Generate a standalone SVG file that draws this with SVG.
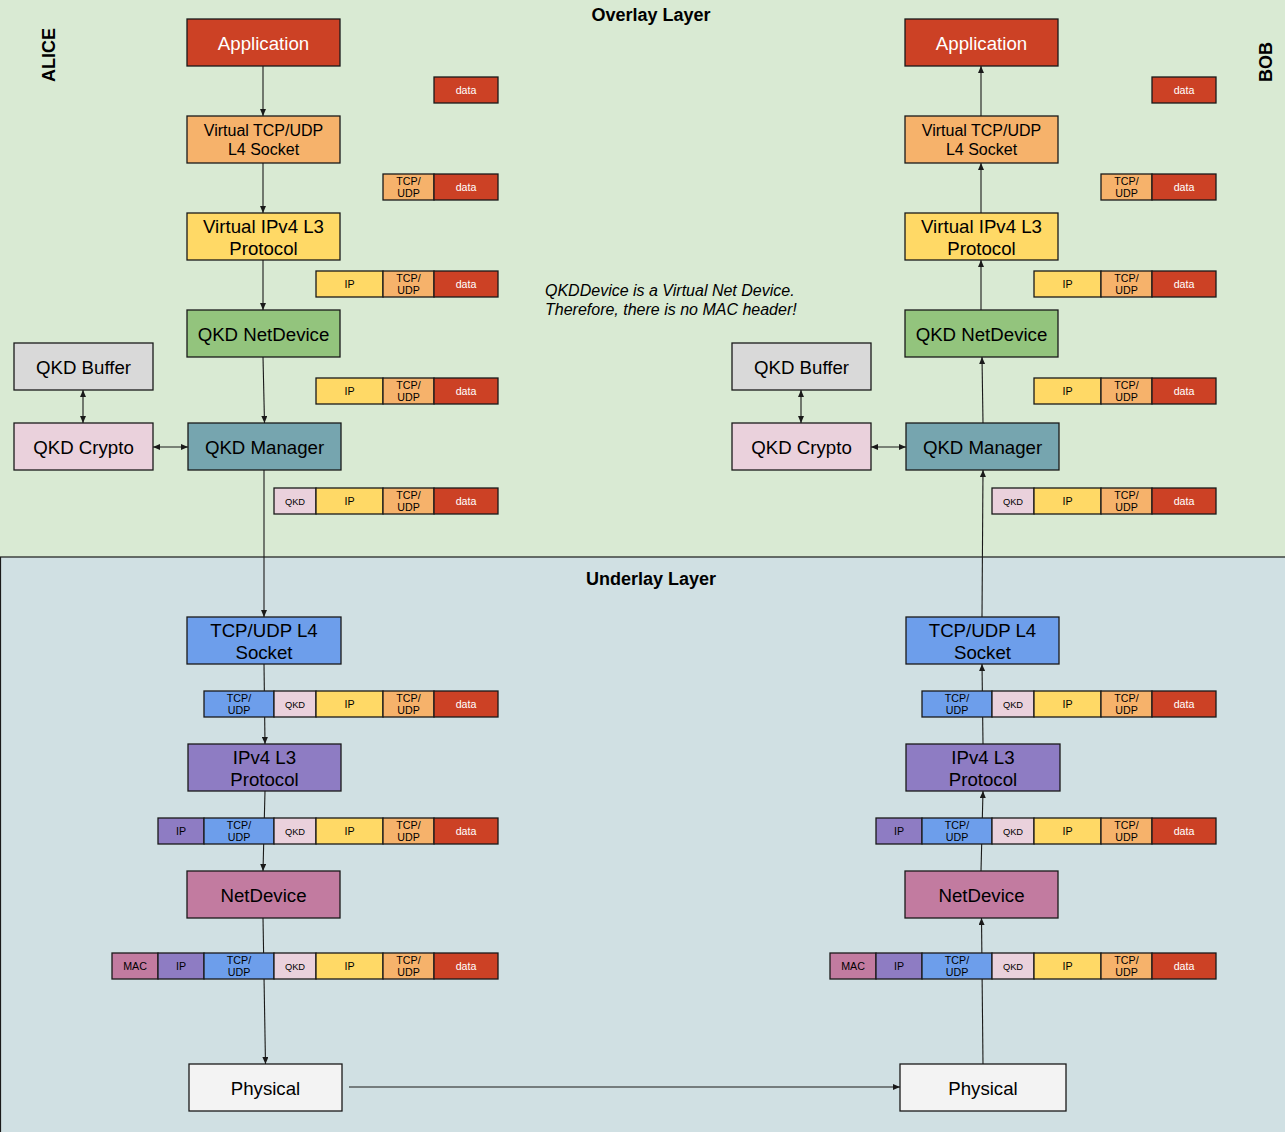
<svg xmlns="http://www.w3.org/2000/svg" xmlns:xlink="http://www.w3.org/1999/xlink" width="1285" height="1132" viewBox="0 0 1285 1132">
<style>
text{font-family:"Liberation Sans",Arial,sans-serif;text-anchor:middle;fill:#000}
.node rect{stroke:#1a1a1a;stroke-width:1.3}
.n18{font-size:18.67px}
.n16{font-size:16px}
.w{fill:#fff}
.cell{stroke:#1a1a1a;stroke-width:1.3}
.pt{font-size:10.67px}
.pq{font-size:9.33px}
.title{font-size:18px;font-weight:bold}
.note{font-size:16px;font-style:italic;text-anchor:start}
.conn line,.conn path{stroke:#1a1a1a;stroke-width:1.1;fill:none}
.arr{marker-end:url(#ah)}
.dbl{marker-end:url(#ah);marker-start:url(#ah)}
</style>
<defs>
<marker id="ah" viewBox="0 0 7 6" refX="7" refY="3" markerWidth="7" markerHeight="6" markerUnits="userSpaceOnUse" orient="auto-start-reverse">
<path d="M0,0 L7,3 L0,6 z" fill="#1a1a1a"/>
</marker>
<g id="c-mac"><rect class="cell" x="0" y="0" width="46" height="26" fill="#c27ba0"/><text class="pt" x="23" y="17">MAC</text></g>
<g id="c-ipp"><rect class="cell" x="0" y="0" width="46" height="26" fill="#8e7cc3"/><text class="pt" x="23" y="17">IP</text></g>
<g id="c-tub"><rect class="cell" x="0" y="0" width="70" height="26" fill="#6d9eeb"/><text class="pt" x="35" y="10.5">TCP/</text><text class="pt" x="35" y="23">UDP</text></g>
<g id="c-qkd"><rect class="cell" x="0" y="0" width="42" height="26" fill="#ead1dc"/><text class="pq" x="21" y="16.5">QKD</text></g>
<g id="c-ip"><rect class="cell" x="0" y="0" width="67" height="26" fill="#ffd966"/><text class="pt" x="33.5" y="17">IP</text></g>
<g id="c-tu"><rect class="cell" x="0" y="0" width="51" height="26" fill="#f6b26b"/><text class="pt" x="25.5" y="10.5">TCP/</text><text class="pt" x="25.5" y="23">UDP</text></g>
<g id="c-data"><rect class="cell" x="0" y="0" width="64" height="26" fill="#cc4125"/><text class="pt w" x="32" y="17">data</text></g>
<g id="r1"><use xlink:href="#c-data" x="434"/></g>
<g id="r2"><use xlink:href="#c-tu" x="383"/><use xlink:href="#c-data" x="434"/></g>
<g id="r3"><use xlink:href="#c-ip" x="316"/><use xlink:href="#c-tu" x="383"/><use xlink:href="#c-data" x="434"/></g>
<g id="r5"><use xlink:href="#c-qkd" x="274"/><use xlink:href="#r3"/></g>
<g id="r6"><use xlink:href="#c-tub" x="204"/><use xlink:href="#r5"/></g>
<g id="r7"><use xlink:href="#c-ipp" x="158"/><use xlink:href="#r6"/></g>
<g id="r8"><use xlink:href="#c-mac" x="112"/><use xlink:href="#r7"/></g>
</defs>

<g id="background">
<rect x="0" y="0" width="1285" height="557" fill="#d9ead3"/>
<rect x="0.5" y="557" width="1290" height="580" fill="#d0e0e3" stroke="#1a1a1a" stroke-width="1.2"/>
<text class="title" x="651" y="21">Overlay Layer</text>
<text class="title" x="651" y="585">Underlay Layer</text>
<text class="title" transform="translate(55,55) rotate(-90)">ALICE</text>
<text class="title" transform="translate(1272,62) rotate(-90)">BOB</text>
<text class="note" x="545" y="296">QKDDevice is a Virtual Net Device.</text>
<text class="note" x="545" y="315">Therefore, there is no MAC header!</text>
</g>

<g id="connectors" class="conn">
<!-- Alice -->
<line class="arr" x1="263" y1="66" x2="263" y2="116"/>
<line class="arr" x1="263" y1="163" x2="263" y2="213"/>
<line class="arr" x1="263" y1="260" x2="263" y2="310"/>
<line class="arr" x1="263" y1="357" x2="264.5" y2="423"/>
<line class="arr" x1="264" y1="470" x2="264" y2="617"/>
<line class="arr" x1="264" y1="664" x2="265" y2="744"/>
<line class="arr" x1="265" y1="791" x2="263" y2="871"/>
<line class="arr" x1="263" y1="918" x2="265.5" y2="1064"/>
<line class="dbl" x1="83" y1="390" x2="83" y2="423"/>
<line class="dbl" x1="153" y1="447" x2="188" y2="447"/>
<!-- Physical link -->
<line class="arr" x1="349" y1="1087" x2="900" y2="1087"/>
<!-- Bob -->
<line class="arr" x1="981" y1="116" x2="981" y2="66"/>
<line class="arr" x1="981" y1="213" x2="981" y2="163"/>
<line class="arr" x1="981" y1="310" x2="981" y2="260"/>
<line class="arr" x1="983" y1="423" x2="982" y2="357"/>
<line class="arr" x1="982" y1="617" x2="983" y2="470"/>
<line class="arr" x1="983" y1="744" x2="982" y2="664"/>
<line class="arr" x1="981" y1="871" x2="983" y2="791"/>
<line class="arr" x1="983" y1="1064" x2="981.5" y2="918"/>
<line class="dbl" x1="801" y1="390" x2="801" y2="423"/>
<line class="dbl" x1="871" y1="447" x2="906" y2="447"/>
</g>

<!-- Alice nodes -->
<g id="alice-application" class="node"><rect x="187" y="19" width="153" height="47" fill="#cc4125"/><text class="n18 w" x="263.5" y="49.5">Application</text></g>
<g id="alice-vsocket" class="node"><rect x="187" y="116" width="153" height="47" fill="#f6b26b"/><text class="n16" x="263.5" y="136">Virtual TCP/UDP</text><text class="n16" x="263.5" y="155">L4 Socket</text></g>
<g id="alice-vipv4" class="node"><rect x="187" y="213" width="153" height="47" fill="#ffd966"/><text class="n18" x="263.5" y="233">Virtual IPv4 L3</text><text class="n18" x="263.5" y="255">Protocol</text></g>
<g id="alice-qkdnetdevice" class="node"><rect x="187" y="310" width="153" height="47" fill="#93c47d"/><text class="n18" x="263.5" y="340.5">QKD NetDevice</text></g>
<g id="alice-qkdbuffer" class="node"><rect x="14" y="343" width="139" height="47" fill="#d9d9d9"/><text class="n18" x="83.5" y="373.5">QKD Buffer</text></g>
<g id="alice-qkdcrypto" class="node"><rect x="14" y="423" width="139" height="47" fill="#ead1dc"/><text class="n18" x="83.5" y="453.5">QKD Crypto</text></g>
<g id="alice-qkdmanager" class="node"><rect x="188" y="423" width="153" height="47" fill="#76a5af"/><text class="n18" x="264.5" y="453.5">QKD Manager</text></g>
<g id="alice-socket" class="node"><rect x="187" y="617" width="154" height="47" fill="#6d9eeb"/><text class="n18" x="264" y="637">TCP/UDP L4</text><text class="n18" x="264" y="659">Socket</text></g>
<g id="alice-ipv4" class="node"><rect x="188" y="744" width="153" height="47" fill="#8e7cc3"/><text class="n18" x="264.5" y="764">IPv4 L3</text><text class="n18" x="264.5" y="786">Protocol</text></g>
<g id="alice-netdevice" class="node"><rect x="187" y="871" width="153" height="47" fill="#c27ba0"/><text class="n18" x="263.5" y="901.5">NetDevice</text></g>
<g id="alice-physical" class="node"><rect x="189" y="1064" width="153" height="47" fill="#f3f3f3"/><text class="n18" x="265.5" y="1094.5">Physical</text></g>

<!-- Bob nodes -->
<g id="bob-application" class="node"><rect x="905" y="19" width="153" height="47" fill="#cc4125"/><text class="n18 w" x="981.5" y="49.5">Application</text></g>
<g id="bob-vsocket" class="node"><rect x="905" y="116" width="153" height="47" fill="#f6b26b"/><text class="n16" x="981.5" y="136">Virtual TCP/UDP</text><text class="n16" x="981.5" y="155">L4 Socket</text></g>
<g id="bob-vipv4" class="node"><rect x="905" y="213" width="153" height="47" fill="#ffd966"/><text class="n18" x="981.5" y="233">Virtual IPv4 L3</text><text class="n18" x="981.5" y="255">Protocol</text></g>
<g id="bob-qkdnetdevice" class="node"><rect x="905" y="310" width="153" height="47" fill="#93c47d"/><text class="n18" x="981.5" y="340.5">QKD NetDevice</text></g>
<g id="bob-qkdbuffer" class="node"><rect x="732" y="343" width="139" height="47" fill="#d9d9d9"/><text class="n18" x="801.5" y="373.5">QKD Buffer</text></g>
<g id="bob-qkdcrypto" class="node"><rect x="732" y="423" width="139" height="47" fill="#ead1dc"/><text class="n18" x="801.5" y="453.5">QKD Crypto</text></g>
<g id="bob-qkdmanager" class="node"><rect x="906" y="423" width="153" height="47" fill="#76a5af"/><text class="n18" x="982.5" y="453.5">QKD Manager</text></g>
<g id="bob-socket" class="node"><rect x="906" y="617" width="153" height="47" fill="#6d9eeb"/><text class="n18" x="982.5" y="637">TCP/UDP L4</text><text class="n18" x="982.5" y="659">Socket</text></g>
<g id="bob-ipv4" class="node"><rect x="906" y="744" width="154" height="47" fill="#8e7cc3"/><text class="n18" x="983" y="764">IPv4 L3</text><text class="n18" x="983" y="786">Protocol</text></g>
<g id="bob-netdevice" class="node"><rect x="905" y="871" width="153" height="47" fill="#c27ba0"/><text class="n18" x="981.5" y="901.5">NetDevice</text></g>
<g id="bob-physical" class="node"><rect x="900" y="1064" width="166" height="47" fill="#f3f3f3"/><text class="n18" x="983" y="1094.5">Physical</text></g>

<!-- Packet stacks -->
<g id="alice-packets">
<use xlink:href="#r1" y="77"/>
<use xlink:href="#r2" y="174"/>
<use xlink:href="#r3" y="271"/>
<use xlink:href="#r3" y="378"/>
<use xlink:href="#r5" y="488"/>
<use xlink:href="#r6" y="691"/>
<use xlink:href="#r7" y="818"/>
<use xlink:href="#r8" y="953"/>
</g>
<g id="bob-packets">
<use xlink:href="#r1" x="718" y="77"/>
<use xlink:href="#r2" x="718" y="174"/>
<use xlink:href="#r3" x="718" y="271"/>
<use xlink:href="#r3" x="718" y="378"/>
<use xlink:href="#r5" x="718" y="488"/>
<use xlink:href="#r6" x="718" y="691"/>
<use xlink:href="#r7" x="718" y="818"/>
<use xlink:href="#r8" x="718" y="953"/>
</g>
</svg>
